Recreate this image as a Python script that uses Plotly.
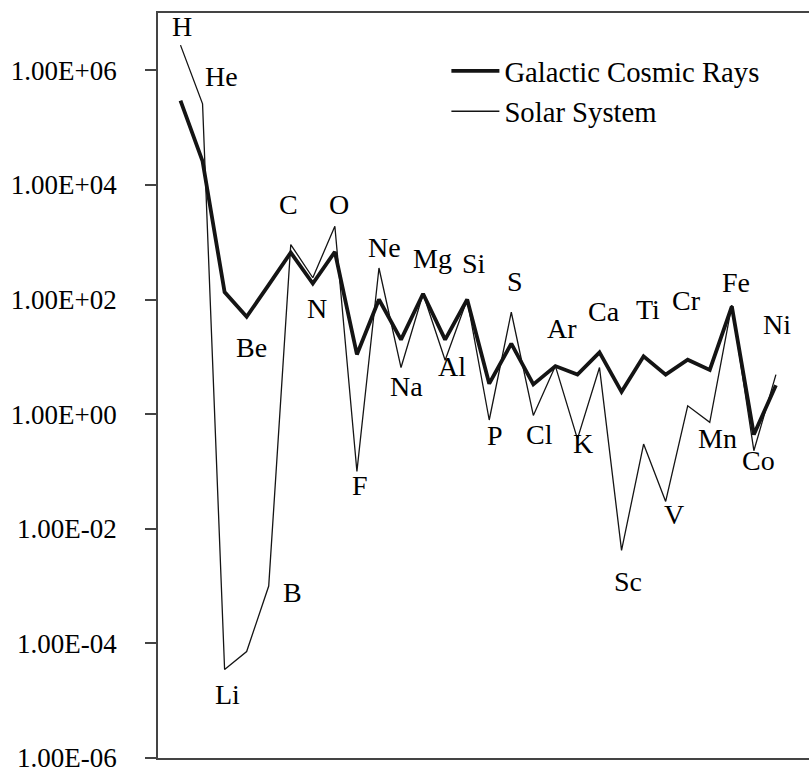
import plotly.graph_objects as go

elements = ["H", "He", "Li", "Be", "B", "C", "N", "O", "F", "Ne", "Na", "Mg", "Al", "Si",
            "P", "S", "Cl", "Ar", "K", "Ca", "Sc", "Ti", "V", "Cr", "Mn", "Fe", "Co", "Ni"]
atomic_number = list(range(1, 29))

gcr = [2.95e5, 2.6e4, 135, 50, 180, 660, 190, 680, 11, 100, 20, 126, 20, 100,
       3.4, 17, 3.3, 6.9, 4.9, 12, 2.45, 10.2, 4.9, 8.9, 5.9, 76, 0.44, 3.2]
solar = [2.75e6, 2.6e5, 3.5e-5, 7.2e-5, 1.0e-3, 910, 240, 1900, 0.10, 355, 6.5, 126, 8.7, 100,
         0.79, 60, 0.95, 6.9, 0.37, 6.5, 4.2e-3, 0.30, 0.030, 1.4, 0.72, 80, 0.23, 4.9]

ytick_vals = [1e-6, 1e-4, 1e-2, 1e0, 1e2, 1e4, 1e6]
ytick_text = ["1.00E-06", "1.00E-04", "1.00E-02", "1.00E+00", "1.00E+02", "1.00E+04", "1.00E+06"]

# label placement (x in atomic-number units, y in log10 units)
label_x = [1.09, 2.88, 3.13, 4.22, 6.10, 5.92, 7.21, 8.19, 9.14, 10.27, 11.27, 12.41, 13.31, 14.29,
           15.24, 16.19, 17.28, 18.32, 19.25, 20.21, 21.29, 22.18, 23.36, 23.93, 25.35, 26.17, 27.21, 28.03]
label_y = [6.756, 5.885, -4.886, 1.170, -3.117, 3.654, 1.841, 3.654, -1.252, 2.904, 0.482, 2.722, 0.831, 2.634,
           -0.372, 2.312, -0.355, 1.502, -0.511, 1.789, -2.917, 1.833, -1.749, 1.981, -0.424, 2.295, -0.816, 1.571]

FONT = "'Liberation Serif', 'Times New Roman', 'DejaVu Serif', serif"

fig = go.Figure()
fig.add_trace(go.Scatter(x=atomic_number, y=gcr, mode="lines", name="Galactic Cosmic Rays",
                         line=dict(color="#141414", width=3.8)))
fig.add_trace(go.Scatter(x=atomic_number, y=solar, mode="lines", name="Solar System",
                         line=dict(color="#141414", width=1.3)))

for name, lx, ly in zip(elements, label_x, label_y):
    fig.add_annotation(x=lx, y=ly, text=name, showarrow=False, xanchor="center", yanchor="middle",
                       font=dict(family=FONT, size=28, color="black"))

fig.update_layout(
    width=809, height=767,
    margin=dict(l=158, r=0, t=13, b=9, autoexpand=False),
    paper_bgcolor="white", plot_bgcolor="white",
    font=dict(family=FONT, size=27, color="black"),
    showlegend=True,
    legend=dict(x=0.443, y=0.956, xanchor="left", yanchor="top", bgcolor="rgba(0,0,0,0)",
                font=dict(family=FONT, size=28.7, color="black"), itemwidth=48, tracegroupgap=0),
    xaxis=dict(range=[-0.02, 29.5], showgrid=False, zeroline=False, showticklabels=False, ticks="",
               showline=True, linecolor="#444444", linewidth=1.5, mirror=True, automargin=False),
    yaxis=dict(type="log", range=[-6.0005, 7], showgrid=False, zeroline=False,
               tickvals=ytick_vals, ticktext=ytick_text, ticks="outside", ticklen=11,
               tickcolor="#444444", tickwidth=1.5, ticklabelstandoff=23,
               ticklabeloverflow="allow", automargin=False,
               showline=True, linecolor="#444444", linewidth=1.5,
               tickfont=dict(family=FONT, size=27, color="black")),
)

fig.write_html("out.html", config={"displayModeBar": False},
               post_script="document.body.style.margin='0';document.body.style.padding='0';"
                           "document.body.style.overflow='hidden';")
